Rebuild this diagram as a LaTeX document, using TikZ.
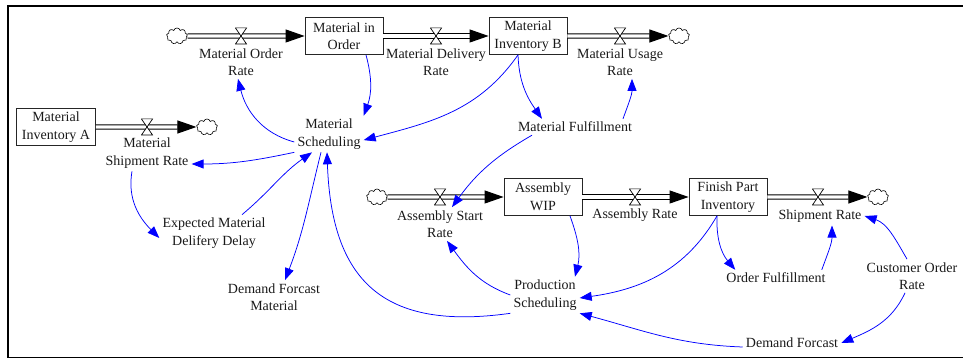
\documentclass[tikz,border=0pt]{standalone}
\usepackage{fontspec}
\setmainfont{Liberation Serif}
\usetikzlibrary{arrows.meta,shapes.symbols}
\tikzset{
  stock/.style={draw=black!85,line width=.8pt,minimum width=78pt,
    minimum height=37pt,inner sep=1pt,align=center},
  aux/.style={inner sep=3pt,align=center},
  sink/.style={cloud,cloud puffs=9,aspect=1.4,draw,fill=white,
    line width=.6pt,minimum width=21pt,minimum height=16pt,inner sep=0pt},
  pipe/.style={draw,line width=1pt,double,double distance=3.2pt,
    -{Triangle[length=19pt,width=13pt]}},
  valve/.style={minimum width=12pt,minimum height=17pt,inner sep=0pt,
    path picture={\draw[fill=white,line width=.7pt]
      ([shift={(.4pt,-.4pt)}]path picture bounding box.north west) --
      ([shift={(-.4pt,-.4pt)}]path picture bounding box.north east) --
      ([shift={(.4pt,.4pt)}]path picture bounding box.south west) --
      ([shift={(-.4pt,.4pt)}]path picture bounding box.south east) -- cycle;}},
  link/.style={blue,line width=.75pt,-{Triangle[length=12pt,width=9pt]}}
}

\begin{document}
\begin{tikzpicture}[x=1pt,y=1pt,font=\fontsize{14}{17.5}\selectfont,text=black!90]
  \useasboundingbox (0,0) rectangle (963,358);
  \draw[line width=2pt] (963,352) -- (7.8,352) -- (7.8,0);
  \draw[line width=1.3pt] (7,.7) -- (963,.7);

  \node (mio) [stock] at (344,322) {Material in\\Order};
  \node (mib) [stock] at (528,322) {Material\\Inventory B};
  \node (mia) [stock,minimum width=79pt] at (56,231) {Material\\Inventory A};
  \node (wip) [stock] at (543,161) {Assembly\\WIP};
  \node (fpi) [stock] at (728,161) {Finish Part\\Inventory};

  \node (c1) [sink] at (177,322) {};
  \node (c2) [sink] at (679,322) {};
  \node (c3) [sink] at (207,231) {};
  \node (c4) [sink] at (377,161) {};
  \node (c5) [sink] at (878,161) {};

  \draw[pipe] (c1) -- (mio);
  \draw[pipe] (mio) -- (mib);
  \draw[pipe] (mib) -- (c2);
  \draw[pipe] (mia) -- (c3);
  \draw[pipe] (c4) -- (wip);
  \draw[pipe] (wip) -- (fpi);
  \draw[pipe] (fpi) -- (c5);

  \node (v1) [valve] at (241,322) {};
  \node (v2) [valve] at (436,322) {};
  \node (v3) [valve] at (620,322) {};
  \node (v4) [valve] at (147,231) {};
  \node (v5) [valve] at (440,161) {};
  \node (v6) [valve] at (635,161) {};
  \node (v7) [valve] at (818,161) {};

  \node (mor) [aux] at (241,296) {Material Order\\Rate};
  \node (mdr) [aux] at (436,296) {Material Delivery\\Rate};
  \node (mur) [aux] at (620,296) {Material Usage\\Rate};
  \node (msr) [aux] at (147,205) {Material\\Shipment Rate};
  \node (asr) [aux] at (440,134) {Assembly Start\\Rate};
  \node (ar) [aux] at (635,143) {Assembly Rate};
  \node (sr) [aux] at (820,142) {Shipment Rate};

  \node (ms) [aux] at (329,224) {Material\\Scheduling};
  \node (mf) [aux] at (575,231) {Material Fulfillment};
  \node (emd) [aux] at (214,125) {Expected Material\\Delifery Delay};
  \node (dfm) [aux] at (274,61) {Demand Forcast\\Material};
  \node (ps) [aux] at (545,63) {Production\\Scheduling};
  \node (of) [aux] at (776,80) {Order Fulfillment};
  \node (cor) [aux] at (912,82) {Customer Order\\Rate};
  \node (df) [aux] at (792,15) {Demand Forcast};

  \draw ([xshift=22pt]mio.south) edge [link,out=-75,in=70] (ms.north east);
  \draw ([xshift=-10pt]mib.south) edge [link,out=-125,in=15] (ms.-10);
  \draw ([xshift=-10pt]mib.south) edge [link,out=-88,in=125] ([xshift=-33pt]mf.north);
  \draw ([xshift=48pt]mf.north) edge [link,out=70,in=-90] ([xshift=12pt]mur.south);
  \draw ([xshift=-43pt]mf.south) edge [link,out=-150,in=54] ([xshift=12pt]asr.north);
  \draw ([yshift=-8pt]ms.west) edge [link,out=165,in=-76] ([xshift=-3pt]mor.south);
  \draw (ms.south west) edge [link,out=-168,in=0] ([yshift=-11pt]msr.east);
  \draw ([xshift=-15pt]msr.south) edge [link,out=-100,in=135] ([yshift=-5pt]emd.west);
  \draw ([xshift=28pt]emd.north) edge [link,out=40,in=-145] ([xshift=-17pt]ms.south);
  \draw ([xshift=-8pt]ms.south) edge [link,out=-104,in=69] ([xshift=11pt]dfm.north);
  \draw (ps.south west) edge [link,out=188,in=-88,looseness=1.35] ([xshift=-2pt]ms.south);
  \draw ([xshift=27pt]wip.south) edge [link,out=-70,in=76] ([xshift=30pt]ps.north);
  \draw (ps.west) edge [link,out=160,in=-54] ([xshift=7pt]asr.south);
  \draw ([xshift=-11pt]fpi.south) edge [link,out=-120,in=8] ([yshift=-3pt]ps.east);
  \draw ([xshift=-11pt]fpi.south) edge [link,out=-92,in=130] ([xshift=12pt]of.north west);
  \draw ([xshift=-7pt]of.north east) edge [link,out=70,in=-90] ([xshift=12pt]sr.south);
  \draw ([xshift=-5pt]cor.north) edge [link,out=120,in=-18] (sr.east);
  \draw ([xshift=-7pt]cor.south) edge [link,out=-115,in=23] (df.east);
  \draw ([yshift=-4pt]df.west) edge [link,out=178,in=-15] (ps.south east);
\end{tikzpicture}
\end{document}
